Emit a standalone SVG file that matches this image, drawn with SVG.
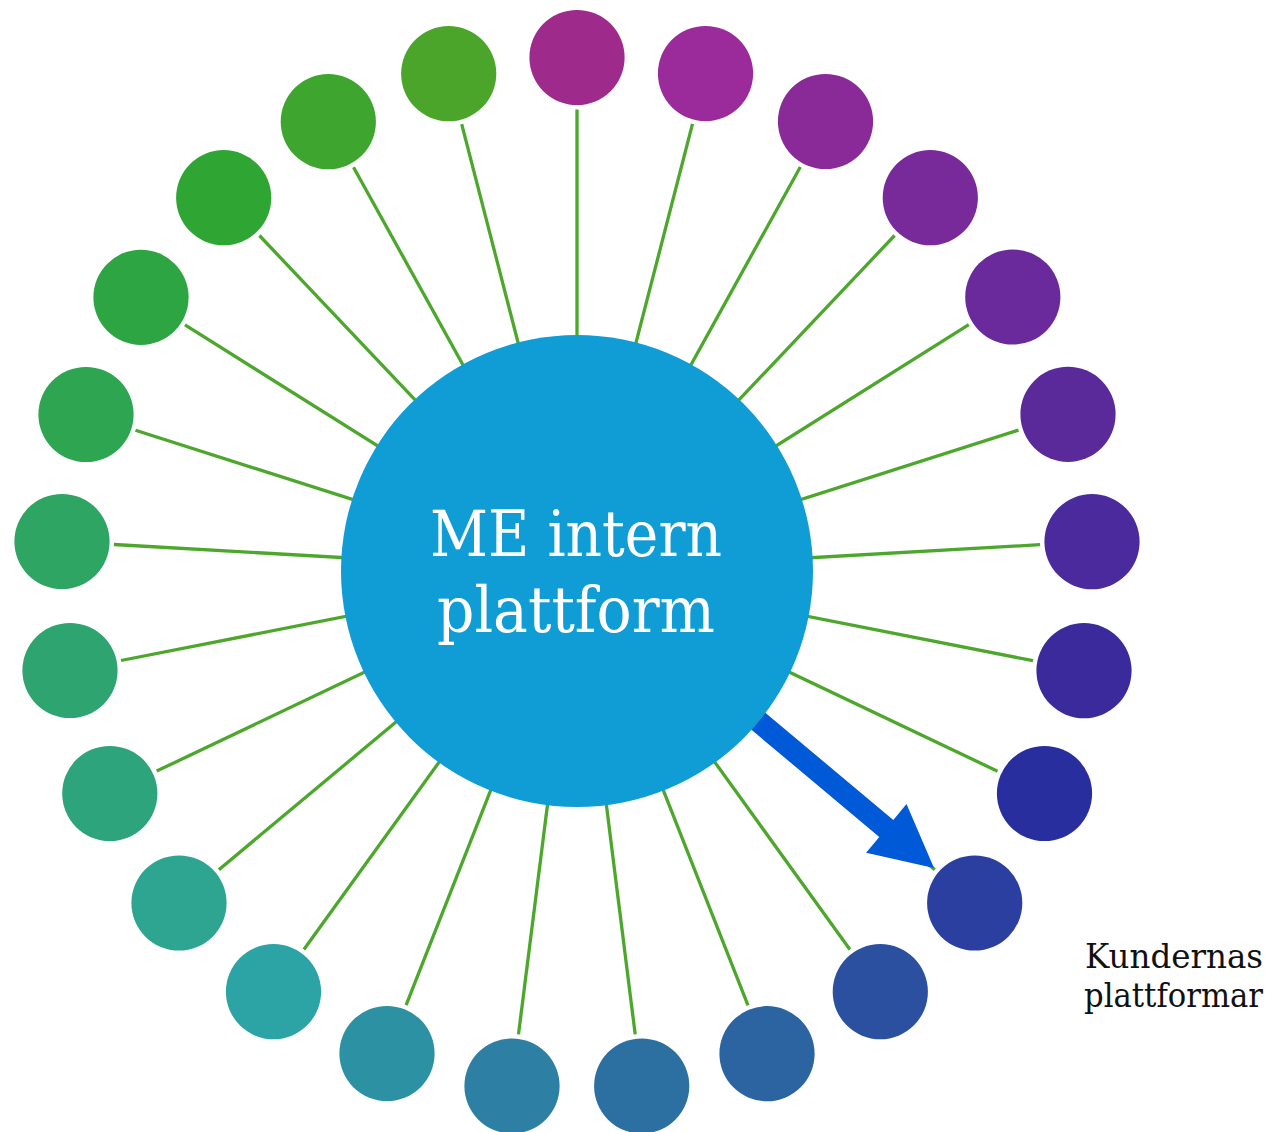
<svg xmlns="http://www.w3.org/2000/svg" width="1276" height="1132" viewBox="0 0 1276 1132">
<style>
.ln{stroke:#4da72c;stroke-width:3.3;fill:none}
.ctext{font-family:"DejaVu Serif","Liberation Serif",serif;font-size:63px;fill:#ffffff;text-anchor:middle}
.ltext{font-family:"DejaVu Serif","Liberation Serif",serif;font-size:33px;fill:#111111;text-anchor:end}
</style>
<rect width="1276" height="1132" fill="#ffffff"/>
<g id="connectors">
<line class="ln" x1="577" y1="109.5" x2="577" y2="571"/>
<line class="ln" x1="692.5" y1="123.9" x2="577" y2="571"/>
<line class="ln" x1="800.3" y1="167.0" x2="577" y2="571"/>
<line class="ln" x1="894.6" y1="235.5" x2="577" y2="571"/>
<line class="ln" x1="968.8" y1="324.7" x2="577" y2="571"/>
<line class="ln" x1="1018.5" y1="430.1" x2="577" y2="571"/>
<line class="ln" x1="1040.1" y1="544.7" x2="577" y2="571"/>
<line class="ln" x1="1033.0" y1="660.7" x2="577" y2="571"/>
<line class="ln" x1="997.5" y1="771.2" x2="577" y2="571"/>
<line class="ln" x1="934.8" y1="869.7" x2="577" y2="571"/>
<line class="ln" x1="849.9" y1="949.5" x2="577" y2="571"/>
<line class="ln" x1="748.0" y1="1005.3" x2="577" y2="571"/>
<line class="ln" x1="635.2" y1="1034.4" x2="577" y2="571"/>
<line class="ln" x1="518.5" y1="1034.4" x2="577" y2="571"/>
<line class="ln" x1="406.1" y1="1005.1" x2="577" y2="571"/>
<line class="ln" x1="303.9" y1="949.5" x2="577" y2="571"/>
<line class="ln" x1="218.9" y1="869.7" x2="577" y2="571"/>
<line class="ln" x1="156.7" y1="771.1" x2="577" y2="571"/>
<line class="ln" x1="121.0" y1="660.5" x2="577" y2="571"/>
<line class="ln" x1="113.9" y1="544.5" x2="577" y2="571"/>
<line class="ln" x1="135.5" y1="430.3" x2="577" y2="571"/>
<line class="ln" x1="185.0" y1="324.9" x2="577" y2="571"/>
<line class="ln" x1="259.4" y1="235.5" x2="577" y2="571"/>
<line class="ln" x1="353.5" y1="167.2" x2="577" y2="571"/>
<line class="ln" x1="461.7" y1="124.1" x2="577" y2="571"/>
<polygon id="arrow" fill="#0059d6" points="713,697.6 727,680.6 893.3,820 906.5,804.1 934,868 866.1,852.7 879.3,836.9"/>
</g>
<g id="center-node">
<circle cx="577" cy="571" r="236" fill="#109dd5"/>
<text class="ctext" x="576" y="556" textLength="292" lengthAdjust="spacingAndGlyphs">ME intern</text>
<text class="ctext" x="576" y="632" textLength="278" lengthAdjust="spacingAndGlyphs">plattform</text>
</g>
<g id="n1"><circle cx="577" cy="57.5" r="47.6" fill="#9e2a8c"/></g>
<g id="n2"><circle cx="705.5" cy="73.5" r="47.6" fill="#9b2b9b"/></g>
<g id="n3"><circle cx="825.5" cy="121.5" r="47.6" fill="#8a2a99"/></g>
<g id="n4"><circle cx="930.3" cy="197.7" r="47.6" fill="#792a9a"/></g>
<g id="n5"><circle cx="1012.8" cy="297" r="47.6" fill="#6a2a9c"/></g>
<g id="n6"><circle cx="1068" cy="414.3" r="47.6" fill="#5a2a9b"/></g>
<g id="n7"><circle cx="1092" cy="541.7" r="47.6" fill="#4a2a9c"/></g>
<g id="n8"><circle cx="1084" cy="670.7" r="47.6" fill="#3a2a9c"/></g>
<g id="n9"><circle cx="1044.5" cy="793.5" r="47.6" fill="#292e9e"/></g>
<g id="n10"><circle cx="974.7" cy="903" r="47.6" fill="#2b3fa0"/></g>
<g id="n11"><circle cx="880.3" cy="991.7" r="47.6" fill="#2b50a0"/></g>
<g id="n12"><circle cx="767" cy="1053.7" r="47.6" fill="#2c64a1"/></g>
<g id="n13"><circle cx="641.7" cy="1086" r="47.6" fill="#2c6fa1"/></g>
<g id="n14"><circle cx="512" cy="1086" r="47.6" fill="#2d80a3"/></g>
<g id="n15"><circle cx="387" cy="1053.5" r="47.6" fill="#2c91a3"/></g>
<g id="n16"><circle cx="273.5" cy="991.7" r="47.6" fill="#2ca3a4"/></g>
<g id="n17"><circle cx="179" cy="903" r="47.6" fill="#2ea590"/></g>
<g id="n18"><circle cx="109.8" cy="793.5" r="47.6" fill="#2ea47d"/></g>
<g id="n19"><circle cx="70" cy="670.5" r="47.6" fill="#2ea570"/></g>
<g id="n20"><circle cx="62" cy="541.5" r="47.6" fill="#2ea563"/></g>
<g id="n21"><circle cx="86" cy="414.5" r="47.6" fill="#2ea550"/></g>
<g id="n22"><circle cx="141" cy="297.3" r="47.6" fill="#2da542"/></g>
<g id="n23"><circle cx="223.7" cy="197.7" r="47.6" fill="#2fa633"/></g>
<g id="n24"><circle cx="328.3" cy="121.7" r="47.6" fill="#3ea62e"/></g>
<g id="n25"><circle cx="448.7" cy="73.7" r="47.6" fill="#4ca52b"/></g>
<g id="label">
<text class="ltext" x="1263" y="968" textLength="178" lengthAdjust="spacingAndGlyphs">Kundernas</text>
<text class="ltext" x="1263" y="1007" textLength="179" lengthAdjust="spacingAndGlyphs">plattformar</text>
</g>
</svg>
